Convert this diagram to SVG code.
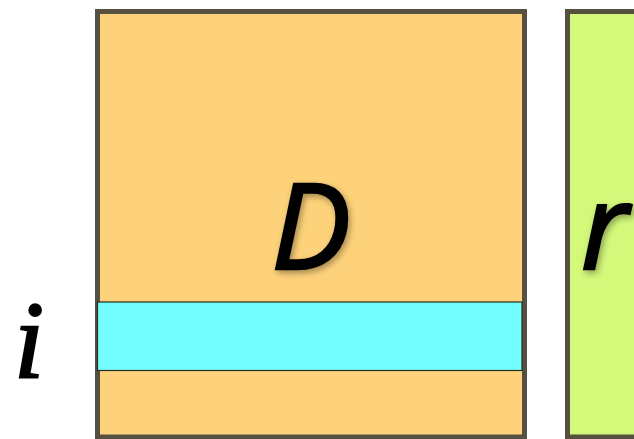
<svg xmlns="http://www.w3.org/2000/svg" width="634" height="439" viewBox="0 0 634 439">
<style>
.mat{stroke:#565040;stroke-width:5}
.lbl{font-family:"Open Sans","DejaVu Sans",sans-serif;font-style:italic;font-weight:400;font-size:119px;fill:#000;stroke:#000;stroke-width:2.5}
</style>
<defs>
<filter id="sh" x="-30%" y="-30%" width="160%" height="160%">
<feDropShadow dx="2" dy="3" stdDeviation="3" flood-color="#000" flood-opacity="0.35"/>
</filter>
</defs>
<rect width="634" height="439" fill="#fff"/>
<g id="D">
<rect class="mat" x="97.5" y="11.5" width="427" height="425.5" fill="#FDD27A"/>
<text class="lbl" x="311" y="269" text-anchor="middle" filter="url(#sh)">D</text>
</g>
<g id="row">
<rect x="97.5" y="302" width="424.5" height="68.5" fill="#73FFFF" stroke="#2a2a20" stroke-width="1.2"/>
</g>
<g id="r">
<rect class="mat" x="567.5" y="11.5" width="80" height="425.5" fill="#D3F87A"/>
<text class="lbl" x="581" y="269" filter="url(#sh)">r</text>
</g>
<g id="i">
<text x="29" y="377" text-anchor="middle" font-family="'Liberation Serif',serif" font-style="italic" font-size="110" stroke="#000" stroke-width="2">i</text>
</g>
<g id="connectors"/>
</svg>
